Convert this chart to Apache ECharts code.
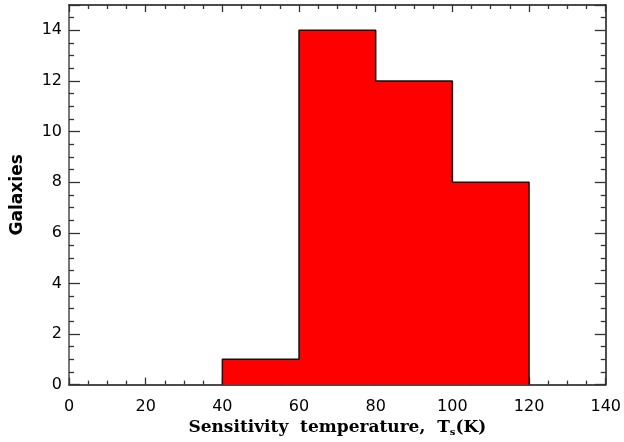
<!DOCTYPE html>
<html>
<head>
<meta charset="utf-8">
<script src="https://cdn.jsdelivr.net/npm/echarts@6/dist/echarts.min.js"></script>
<style>html,body{margin:0;padding:0;background:#fff}#c{width:624px;height:442px}</style>
</head>
<body>
<div id="c"></div>
<script>
var binStart = [40, 60, 80, 100];
var binEnd = [60, 80, 100, 120];
var counts = [1, 14, 12, 8];
var xTicks = [0, 20, 40, 60, 80, 100, 120, 140];
var yTicks = [0, 2, 4, 6, 8, 10, 12, 14];

var outline = [];
binStart.forEach(function (s, i) {
  if (i === 0) outline.push([s, 0]);
  outline.push([s, counts[i]]);
  outline.push([binEnd[i], counts[i]]);
  if (i === binStart.length - 1) outline.push([binEnd[i], 0]);
});

var chart = echarts.init(document.getElementById('c'));
function axLine(c) { return { show: true, onZero: false, lineStyle: { color: c, width: 1.6 } }; }
var tickStyle = { color: '#333', width: 1.3 };
var font = 'DejaVu Sans';
chart.setOption({
  animation: false,
  grid: { left: 69, right: 17.5, top: 5, bottom: 56 },
  xAxis: [{
    type: 'value', min: 0, max: 140, interval: 20, position: 'bottom',
    axisLine: axLine('#111'),
    axisTick: { inside: true, length: 7, lineStyle: tickStyle },
    minorTick: { show: true, splitNumber: 4, length: 4, lineStyle: tickStyle },
    splitLine: { show: false },
    axisLabel: { margin: 14, fontSize: 16, fontFamily: font, color: '#000',
      formatter: function (v) { return xTicks.indexOf(v) >= 0 ? String(v) : ''; } },
    name: 'Sensitivity  temperature,  T{s|s}(K)', nameLocation: 'middle', nameGap: 33,
    nameTextStyle: { fontSize: 17, fontWeight: 'bold', fontFamily: 'DejaVu Serif', color: '#000',
      rich: { s: { fontSize: 10, fontWeight: 'bold', fontFamily: 'DejaVu Serif', padding: [8, 0, 0, 0] } } }
  }, {
    type: 'value', min: 0, max: 140, interval: 20, position: 'top',
    axisLine: axLine('#111'),
    axisTick: { inside: true, length: 7, lineStyle: tickStyle },
    minorTick: { show: true, splitNumber: 4, length: 4, lineStyle: tickStyle },
    splitLine: { show: false }, axisLabel: { show: false }
  }],
  yAxis: [{
    type: 'value', min: 0, max: 15, interval: 2, position: 'left',
    axisLine: axLine('#555'),
    axisTick: { inside: true, length: 11, lineStyle: tickStyle },
    minorTick: { show: true, splitNumber: 4, length: 5, lineStyle: tickStyle },
    splitLine: { show: false },
    axisLabel: { margin: 7, fontSize: 16, fontFamily: font, color: '#000', showMaxLabel: false,
      formatter: function (v) { return yTicks.indexOf(v) >= 0 ? String(v) : ''; } },
    name: 'Galaxies', nameLocation: 'middle', nameGap: 43, nameRotate: 90,
    nameTextStyle: { fontSize: 17, fontWeight: 'bold', fontFamily: font, color: '#000' }
  }, {
    type: 'value', min: 0, max: 15, interval: 2, position: 'right',
    axisLine: axLine('#222'),
    axisTick: { inside: true, length: 11, lineStyle: tickStyle },
    minorTick: { show: true, splitNumber: 4, length: 5, lineStyle: tickStyle },
    splitLine: { show: false }, axisLabel: { show: false }
  }],
  series: [{
    type: 'line', xAxisIndex: 0, yAxisIndex: 0,
    data: outline, showSymbol: false, symbol: 'none',
    lineStyle: { color: '#111', width: 1.5 },
    areaStyle: { color: '#ff0000', opacity: 1, origin: 'start' }, z: 2
  }, {
    type: 'line', xAxisIndex: 1, yAxisIndex: 1, data: [], symbol: 'none'
  }]
});
</script>
</body>
</html>
